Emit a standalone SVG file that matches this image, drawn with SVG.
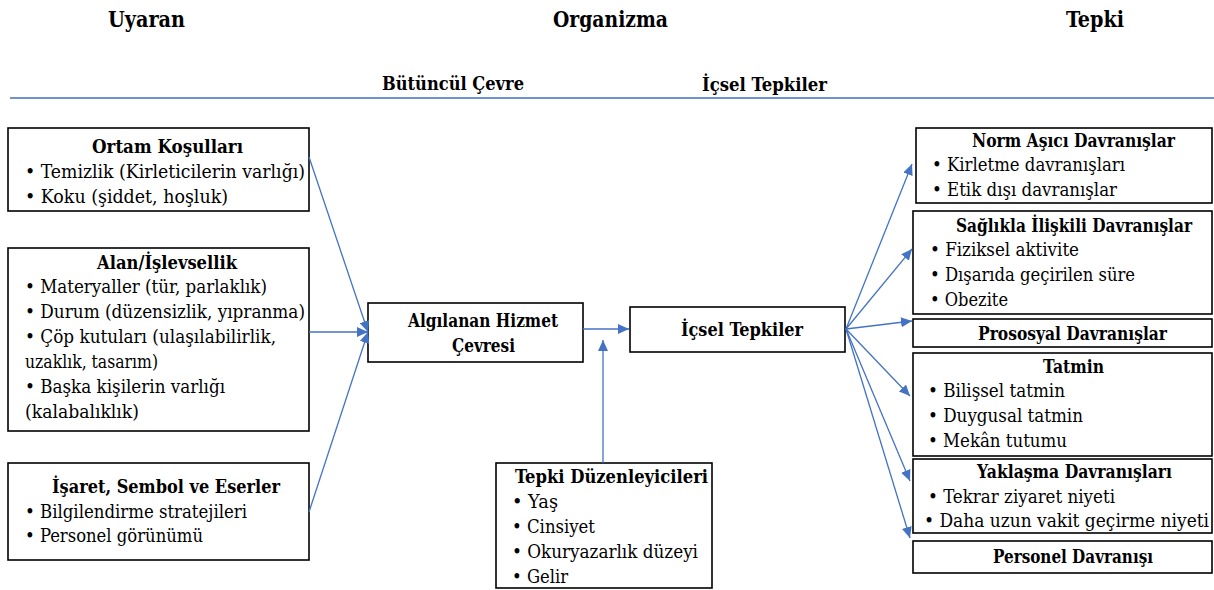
<svg xmlns="http://www.w3.org/2000/svg" width="1214" height="590" viewBox="0 0 1214 590">
  <style>
    text { fill: #000; font-family: "DejaVu Serif Condensed", "DejaVu Serif", serif; font-stretch: condensed; }
    .hdr { font-size: 22px; font-weight: bold; }
    .sub { font-size: 19px; font-weight: bold; }
    .ttl { font-size: 19px; font-weight: bold; }
    .body { font-size: 19px; }
    .box { fill: #fff; stroke: #000; stroke-width: 1.6; }
    .conn { stroke: #4472C4; stroke-width: 1.3; fill: none; marker-end: url(#arrow); }
  </style>
  <defs>
    <marker id="arrow" markerUnits="userSpaceOnUse" markerWidth="12" markerHeight="10" refX="11" refY="5" orient="auto">
      <path d="M0,0 L11,5 L0,10 Z" fill="#4472C4"/>
    </marker>
  </defs>

  <rect width="1214" height="590" fill="#fff"/>

  <!-- column headings -->
  <g id="headings">
    <text class="hdr" x="108" y="27" textLength="77" lengthAdjust="spacingAndGlyphs">Uyaran</text>
    <text class="hdr" x="553" y="27" textLength="115" lengthAdjust="spacingAndGlyphs">Organizma</text>
    <text class="hdr" x="1066" y="27" textLength="58" lengthAdjust="spacingAndGlyphs">Tepki</text>
    <text class="sub" x="382" y="90" textLength="142" lengthAdjust="spacingAndGlyphs">Bütüncül Çevre</text>
    <text class="sub" x="702" y="91" textLength="125" lengthAdjust="spacingAndGlyphs">İçsel Tepkiler</text>
    <line x1="10" y1="98" x2="1214" y2="98" stroke="#6f93d2" stroke-width="2"/>
  </g>

  <!-- stimulus nodes -->
  <g id="ortam-kosullari">
    <rect class="box" x="8" y="128" width="301" height="83"/>
    <text class="ttl" x="92" y="153" textLength="151" lengthAdjust="spacingAndGlyphs">Ortam Koşulları</text>
    <text class="body" x="25" y="178" textLength="280" lengthAdjust="spacingAndGlyphs">• Temizlik (Kirleticilerin varlığı)</text>
    <text class="body" x="25" y="203" textLength="203" lengthAdjust="spacingAndGlyphs">• Koku (şiddet, hoşluk)</text>
  </g>

  <g id="alan-islevsellik">
    <rect class="box" x="8" y="248" width="301" height="183"/>
    <text class="ttl" x="97" y="269" textLength="140" lengthAdjust="spacingAndGlyphs">Alan/İşlevsellik</text>
    <text class="body" x="25" y="293" textLength="242" lengthAdjust="spacingAndGlyphs">• Materyaller (tür, parlaklık)</text>
    <text class="body" x="25" y="318" textLength="280" lengthAdjust="spacingAndGlyphs">• Durum (düzensizlik, yıpranma)</text>
    <text class="body" x="25" y="343" textLength="251" lengthAdjust="spacingAndGlyphs">• Çöp kutuları (ulaşılabilirlik,</text>
    <text class="body" x="25" y="368" textLength="133" lengthAdjust="spacingAndGlyphs">uzaklık, tasarım)</text>
    <text class="body" x="25" y="393" textLength="200" lengthAdjust="spacingAndGlyphs">• Başka kişilerin varlığı</text>
    <text class="body" x="25" y="418" textLength="114" lengthAdjust="spacingAndGlyphs">(kalabalıklık)</text>
  </g>

  <g id="isaret-sembol">
    <rect class="box" x="8" y="463" width="301" height="97"/>
    <text class="ttl" x="52" y="493" textLength="228" lengthAdjust="spacingAndGlyphs">İşaret, Sembol ve Eserler</text>
    <text class="body" x="25" y="518" textLength="222" lengthAdjust="spacingAndGlyphs">• Bilgilendirme stratejileri</text>
    <text class="body" x="25" y="542" textLength="178" lengthAdjust="spacingAndGlyphs">• Personel görünümü</text>
  </g>

  <!-- organism nodes -->
  <g id="algilanan-hizmet">
    <rect class="box" x="368" y="303" width="215" height="59"/>
    <text class="ttl" x="408" y="327" textLength="150" lengthAdjust="spacingAndGlyphs">Algılanan Hizmet</text>
    <text class="ttl" x="452" y="352" textLength="63" lengthAdjust="spacingAndGlyphs">Çevresi</text>
  </g>

  <g id="icsel-tepkiler">
    <rect class="box" x="630" y="307" width="215" height="45"/>
    <text class="ttl" x="681" y="336" textLength="122" lengthAdjust="spacingAndGlyphs">İçsel Tepkiler</text>
  </g>

  <g id="tepki-duzenleyicileri">
    <rect class="box" x="496" y="463" width="216" height="125"/>
    <text class="ttl" x="515" y="483" textLength="193" lengthAdjust="spacingAndGlyphs">Tepki Düzenleyicileri</text>
    <text class="body" x="512" y="508" textLength="46" lengthAdjust="spacingAndGlyphs">• Yaş</text>
    <text class="body" x="512" y="533" textLength="83" lengthAdjust="spacingAndGlyphs">• Cinsiyet</text>
    <text class="body" x="512" y="558" textLength="186" lengthAdjust="spacingAndGlyphs">• Okuryazarlık düzeyi</text>
    <text class="body" x="512" y="583" textLength="56" lengthAdjust="spacingAndGlyphs">• Gelir</text>
  </g>

  <!-- response nodes -->
  <g id="norm-asici">
    <rect class="box" x="916" y="128" width="296" height="75"/>
    <text class="ttl" x="972" y="147" textLength="203" lengthAdjust="spacingAndGlyphs">Norm Aşıcı Davranışlar</text>
    <text class="body" x="932" y="171" textLength="193" lengthAdjust="spacingAndGlyphs">• Kirletme davranışları</text>
    <text class="body" x="932" y="196" textLength="185" lengthAdjust="spacingAndGlyphs">• Etik dışı davranışlar</text>
  </g>

  <g id="saglikla-iliskili">
    <rect class="box" x="913" y="211" width="299" height="103"/>
    <text class="ttl" x="956" y="232" font-size="18" style="font-size:18px" textLength="236" lengthAdjust="spacingAndGlyphs">Sağlıkla İlişkili Davranışlar</text>
    <text class="body" x="930" y="256" textLength="149" lengthAdjust="spacingAndGlyphs">• Fiziksel aktivite</text>
    <text class="body" x="930" y="281" textLength="205" lengthAdjust="spacingAndGlyphs">• Dışarıda geçirilen süre</text>
    <text class="body" x="930" y="306" textLength="78" lengthAdjust="spacingAndGlyphs">• Obezite</text>
  </g>

  <g id="prososyal">
    <rect class="box" x="913" y="319" width="299" height="28"/>
    <text class="ttl" x="978" y="340" textLength="189" lengthAdjust="spacingAndGlyphs">Prososyal Davranışlar</text>
  </g>

  <g id="tatmin">
    <rect class="box" x="913" y="353" width="299" height="103"/>
    <text class="ttl" x="1043" y="373" textLength="61" lengthAdjust="spacingAndGlyphs">Tatmin</text>
    <text class="body" x="928" y="397" textLength="137" lengthAdjust="spacingAndGlyphs">• Bilişsel tatmin</text>
    <text class="body" x="928" y="422" textLength="155" lengthAdjust="spacingAndGlyphs">• Duygusal tatmin</text>
    <text class="body" x="928" y="447" textLength="139" lengthAdjust="spacingAndGlyphs">• Mekân tutumu</text>
  </g>

  <g id="yaklasma">
    <rect class="box" x="913" y="459" width="299" height="74"/>
    <text class="ttl" x="977" y="478" textLength="195" lengthAdjust="spacingAndGlyphs">Yaklaşma Davranışları</text>
    <text class="body" x="928" y="503" textLength="187" lengthAdjust="spacingAndGlyphs">• Tekrar ziyaret niyeti</text>
    <text class="body" x="924" y="527" textLength="285" lengthAdjust="spacingAndGlyphs">• Daha uzun vakit geçirme niyeti</text>
  </g>

  <g id="personel-davranisi">
    <rect class="box" x="913" y="541" width="299" height="32"/>
    <text class="ttl" x="993" y="563" textLength="160" lengthAdjust="spacingAndGlyphs">Personel Davranışı</text>
  </g>

  <!-- connectors -->
  <g id="connectors">
    <line class="conn" x1="309" y1="157" x2="368" y2="332"/>
    <line class="conn" x1="309" y1="332" x2="368" y2="332"/>
    <line class="conn" x1="309" y1="512" x2="368" y2="332"/>
    <line class="conn" x1="583" y1="329" x2="629" y2="329"/>
    <line class="conn" x1="603" y1="463" x2="603" y2="340"/>
    <line class="conn" x1="846" y1="329" x2="912" y2="164"/>
    <line class="conn" x1="846" y1="329" x2="912" y2="249"/>
    <line class="conn" x1="846" y1="329" x2="912" y2="321"/>
    <line class="conn" x1="846" y1="329" x2="910" y2="396"/>
    <line class="conn" x1="846" y1="329" x2="910" y2="481"/>
    <line class="conn" x1="846" y1="329" x2="910" y2="538"/>
  </g>
</svg>
